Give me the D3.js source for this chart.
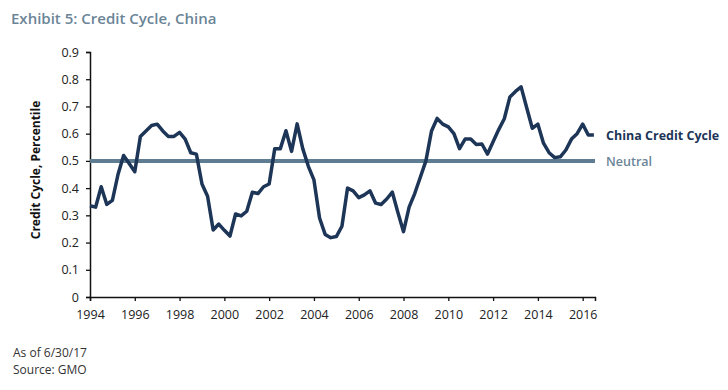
<!DOCTYPE html>
<html lang="en">
<head>
<meta charset="utf-8">
<title>Exhibit 5: Credit Cycle, China</title>
<script src="https://d3js.org/d3.v7.min.js"></script>
<style>
	body { margin: 0; background: #fff; }
	svg text { font-family: "Open Sans", "Liberation Sans", sans-serif; }
</style>
</head>
<body>
<div id="chart"></div>
<script>
// quarterly readings, first one is Q1 1994
const startYear = 1994;
const cycle = [
	0.335, 0.33, 0.405, 0.34, 0.355, 0.45, 0.52, 0.49,      // 1994-95
	0.46, 0.59, 0.61, 0.63, 0.635, 0.61, 0.59, 0.59,        // 1996-97
	0.605, 0.58, 0.53, 0.525, 0.415, 0.37, 0.246, 0.268,    // 1998-99
	0.245, 0.224, 0.305, 0.298, 0.315, 0.385, 0.38, 0.405,  // 2000-01
	0.415, 0.545, 0.545, 0.611, 0.535, 0.636, 0.545, 0.48,  // 2002-03
	0.43, 0.29, 0.23, 0.218, 0.222, 0.26, 0.40, 0.39,       // 2004-05
	0.365, 0.375, 0.39, 0.345, 0.34, 0.36, 0.385, 0.31,     // 2006-07
	0.24, 0.33, 0.38, 0.44, 0.50, 0.61, 0.656, 0.635,       // 2008-09
	0.625, 0.60, 0.545, 0.58, 0.58, 0.56, 0.562, 0.525,     // 2010-11
	0.57, 0.615, 0.655, 0.735, 0.755, 0.772, 0.695, 0.62,   // 2012-13
	0.635, 0.565, 0.53, 0.512, 0.515, 0.54, 0.58, 0.60,     // 2014-15
	0.635, 0.595, 0.595                                     // 2016
];
const neutral = 0.5;
const yTicks = [0, 0.1, 0.2, 0.3, 0.4, 0.5, 0.6, 0.7, 0.8, 0.9];
const xTicks = [1994, 1996, 1998, 2000, 2002, 2004, 2006, 2008, 2010, 2012, 2014, 2016];
const seriesName = "China Credit Cycle";
const neutralName = "Neutral";

let points = cycle.map((v, i) => ({ t: startYear + i / 4, v: v }));

let svg = d3.select("#chart").append("svg")
	.attr("width", 728)
	.attr("height", 390);

let x = d3.scaleLinear()
	.domain([1994, 2016.55])
	.range([90, 595]);
let y = d3.scaleLinear()
	.domain([0, 0.9])
	.range([297, 52]);

// title
svg.append("text")
	.attr("x", 11).attr("y", 24)
	.attr("font-size", 15).attr("font-weight", 600)
	.attr("fill", "#6b8597")
	.text("Exhibit 5: Credit Cycle, China");

// y axis
let yAxis = svg.append("g")
	.attr("transform", "translate(90,0)")
	.call(d3.axisLeft(y).tickValues(yTicks).tickSize(4).tickPadding(7)
		.tickFormat(d => d === 0 ? "0" : d3.format(".1f")(d)));
// x axis
let xAxis = svg.append("g")
	.attr("transform", "translate(0,297)")
	.call(d3.axisBottom(x).tickValues(xTicks).tickSize(4).tickPadding(9).tickFormat(d3.format("d")));

[yAxis, xAxis].forEach(g => {
	g.select(".domain").attr("stroke", "#111").attr("stroke-width", 1.5);
	g.selectAll(".tick line").attr("stroke", "#111").attr("stroke-width", 1.3);
	g.selectAll(".tick text").attr("font-size", 12.5).attr("fill", "#222")
		.attr("font-family", "'Open Sans', sans-serif");
});

svg.append("text")
	.attr("transform", "translate(40,170) rotate(-90)")
	.attr("text-anchor", "middle")
	.attr("font-size", 12).attr("font-weight", 700)
	.attr("fill", "#111")
	.text("Credit Cycle, Percentile");

// neutral line
svg.append("line")
	.attr("x1", x(1994)).attr("x2", x(2016.55))
	.attr("y1", y(neutral)).attr("y2", y(neutral))
	.attr("stroke", "#5e7d92").attr("stroke-width", 4);

// credit cycle line
svg.append("path")
	.datum(points)
	.attr("fill", "none")
	.attr("stroke", "#1d3557")
	.attr("stroke-width", 3.5)
	.attr("stroke-linejoin", "round")
	.attr("d", d3.line().x(d => x(d.t)).y(d => y(d.v)));

// labels at line ends
svg.append("text")
	.attr("x", 606).attr("y", y(cycle[cycle.length - 1]) + 5)
	.attr("font-size", 12.5).attr("font-weight", 700)
	.attr("fill", "#1d3557")
	.text(seriesName);
svg.append("text")
	.attr("x", 606).attr("y", y(neutral) + 5)
	.attr("font-size", 12.5).attr("font-weight", 600)
	.attr("fill", "#6b8597")
	.text(neutralName);

// notes
svg.append("text")
	.attr("x", 13).attr("y", 357)
	.attr("font-size", 12).attr("fill", "#333")
	.text("As of 6/30/17");
svg.append("text")
	.attr("x", 13).attr("y", 374)
	.attr("font-size", 12).attr("fill", "#333")
	.text("Source: GMO");
</script>
</body>
</html>
